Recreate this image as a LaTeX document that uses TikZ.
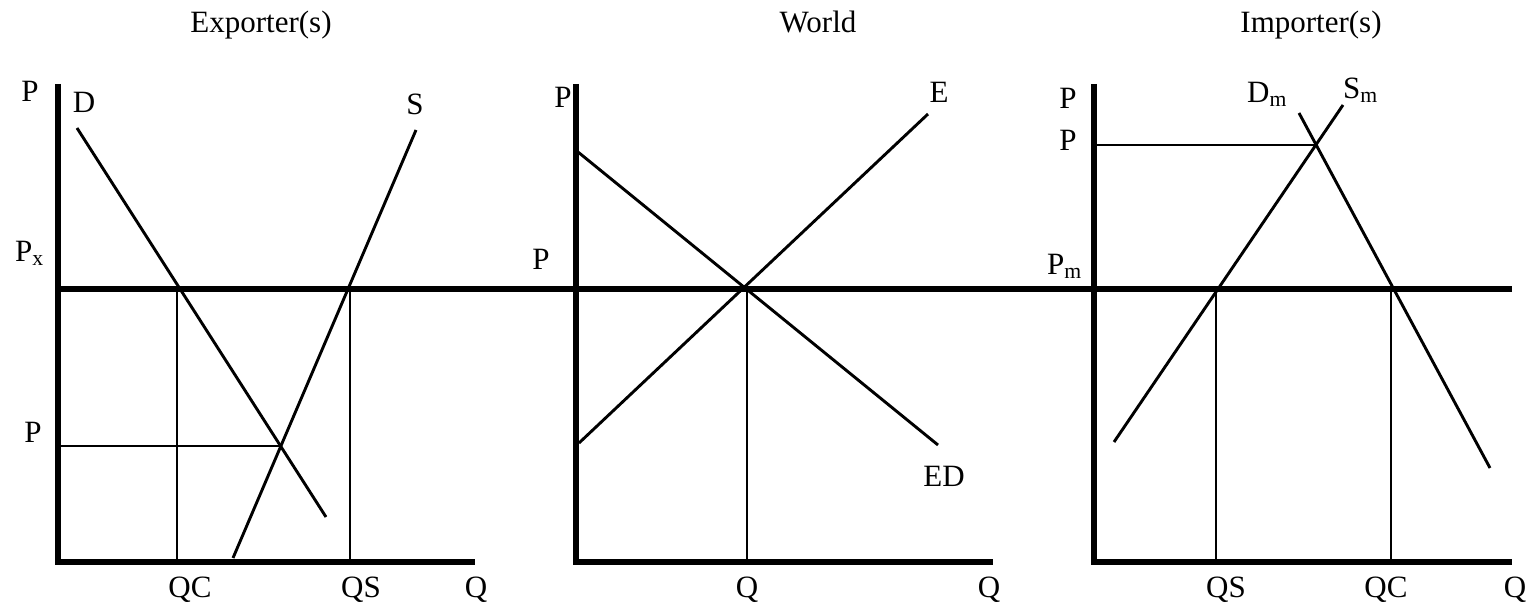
\documentclass[tikz,border=0pt]{standalone}
\usepackage{fontspec}
\setmainfont{Liberation Serif}
\begin{document}
\begin{tikzpicture}[x=1pt,y=-1pt,
  axis/.style={line width=5.5pt,line join=miter},
  curve/.style={line width=2.9pt},
  lbl/.style={anchor=base,inner sep=0pt,font=\fontsize{31}{37}\selectfont},
  lbll/.style={anchor=base west,inner sep=0pt,font=\fontsize{31}{37}\selectfont}]
\useasboundingbox (0,0) rectangle (1537,612);
% titles
\node[lbl] (t1) at (261,33) {Exporter(s)};
\node[lbl] (t2) at (818,33) {World};
\node[lbl] (t3) at (1311,33) {Importer(s)};
% ---------- Panel 1: exporter ----------
\coordinate (a1top) at (58,84);
\coordinate (a1o) at (58,562);
\coordinate (a1r) at (475,562);
\draw[axis] (a1top) -- (a1o) -- (a1r);
% world price line across all panels
\coordinate (pxl) at (58,289);
\coordinate (pxr) at (1512,289);
\draw[axis] (pxl) -- (pxr);
\coordinate (d1a) at (77,128);
\coordinate (d1b) at (326,517);
\coordinate (s1a) at (233,558);
\coordinate (s1b) at (416,130);
\draw[curve] (d1a) -- (d1b);
\draw[curve] (s1a) -- (s1b);
\coordinate (qcT) at (177,289);
\coordinate (qcB) at (177,562);
\coordinate (qsT) at (350,289);
\coordinate (qsB) at (350,562);
\draw[curve] (qcT) -- (qcB);
\draw[curve] (qsT) -- (qsB);
\coordinate (p1l) at (58,446);
\coordinate (e1) at (281,446);
\draw[curve] (p1l) -- (e1);
\node[lbl] (P1) at (30,102) {P};
\node[lbl] (D1) at (84,113) {D};
\node[lbl] (S1) at (415,115) {S};
\node[lbll] (Px) at (15,262) {P\textsubscript{x}};
\node[lbl] (P1b) at (33,442) {P};
\node[lbl] (QC1) at (190,597) {QC};
\node[lbl] (QS1) at (361,597) {QS};
\node[lbl] (Q1) at (476,597) {Q};
% ---------- Panel 2: world ----------
\coordinate (a2top) at (576,84);
\coordinate (a2o) at (576,562);
\coordinate (a2r) at (993,562);
\draw[axis] (a2top) -- (a2o) -- (a2r);
\coordinate (eda) at (578,152);
\coordinate (edb) at (938,445);
\coordinate (ea) at (579,443);
\coordinate (eb) at (928,114);
\draw[curve] (eda) -- (edb);
\draw[curve] (ea) -- (eb);
\coordinate (qwT) at (747,289);
\coordinate (qwB) at (747,562);
\draw[curve] (qwT) -- (qwB);
\node[lbl] (P2) at (563,108) {P};
\node[lbl] (P2b) at (541,270) {P};
\node[lbl] (E2) at (939,103) {E};
\node[lbl] (ED2) at (944,486) {ED};
\node[lbl] (Q2a) at (747,597) {Q};
\node[lbl] (Q2b) at (989,597) {Q};
% ---------- Panel 3: importer ----------
\coordinate (a3top) at (1094,84);
\coordinate (a3o) at (1094,562);
\coordinate (a3r) at (1512,562);
\draw[axis] (a3top) -- (a3o) -- (a3r);
\coordinate (sma) at (1114,442);
\coordinate (smb) at (1343,105);
\coordinate (dma) at (1299,113);
\coordinate (dmb) at (1490,468);
\draw[curve] (sma) -- (smb);
\draw[curve] (dma) -- (dmb);
\coordinate (p3l) at (1094,145);
\coordinate (e3) at (1316,145);
\draw[curve] (p3l) -- (e3);
\coordinate (qs3T) at (1216,289);
\coordinate (qs3B) at (1216,562);
\coordinate (qc3T) at (1391,289);
\coordinate (qc3B) at (1391,562);
\draw[curve] (qs3T) -- (qs3B);
\draw[curve] (qc3T) -- (qc3B);
\node[lbl] (P3) at (1068,109) {P};
\node[lbl] (P3b) at (1068,151) {P};
\node[lbll] (Dm) at (1247,103) {D\textsubscript{m}};
\node[lbll] (Sm) at (1343,99) {S\textsubscript{m}};
\node[lbll] (Pm) at (1047,275) {P\textsubscript{m}};
\node[lbl] (QS3) at (1226,597) {QS};
\node[lbl] (QC3) at (1386,597) {QC};
\node[lbl] (Q3) at (1515,597) {Q};
\end{tikzpicture}
\end{document}
